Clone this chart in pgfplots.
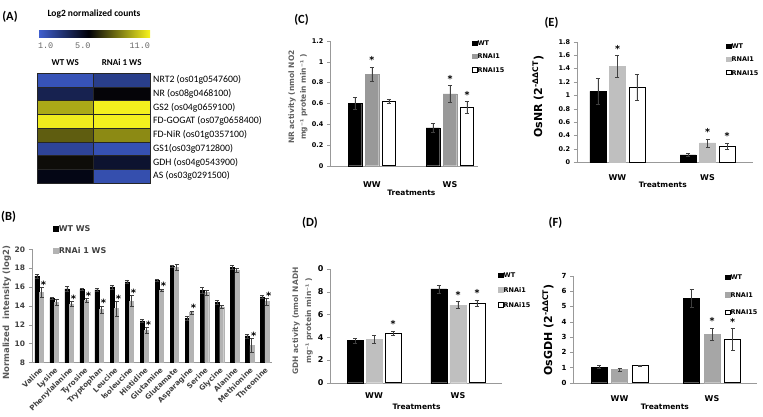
\documentclass[border=0pt]{standalone}
\usepackage{fontspec}
\setmainfont{Carlito}
\newfontfamily\vf{DejaVu Sans}
\newfontfamily\mono{Liberation Mono}
\usepackage{pgfplots}
\usepackage{pgfplotstable}
\pgfplotsset{compat=1.18}
\newcommand\fs[2]{\fontsize{#1}{#2}\selectfont}
\definecolor{gB}{HTML}{B3B3B3}
\definecolor{gC}{HTML}{999999}
\definecolor{gD}{HTML}{BFBFBF}
\definecolor{gE}{HTML}{BFBFBF}
\definecolor{gF}{HTML}{A6A6A6}

\pgfplotstableread{
x wt wte ra rae
0 17.15 0.2 15.45 0.5
1 14.8 0.1 14.4 0.3
2 15.8 0.3 14.2 0.3
3 15.75 0.1 14.6 0.2
4 15.7 0.15 13.6 0.4
5 16.0 0.2 13.7 0.8
6 16.55 0.2 14.5 0.6
7 12.4 0.15 11.4 0.3
8 16.7 0.15 15.65 0.15
9 18.2 0.15 18.1 0.3
10 12.7 0.2 13.3 0.15
11 15.65 0.3 15.4 0.25
12 14.35 0.2 13.9 0.15
13 18.05 0.2 17.75 0.2
14 10.8 0.2 9.8 0.7
15 14.95 0.2 14.45 0.35
}\tB

\pgfplotstableread{
x wt wte ra rae rb rbe
0 0.60 0.06 0.88 0.07 0.62 0.015
1 0.365 0.04 0.69 0.08 0.56 0.06
}\tC
\pgfplotstableread{
x wt wte ra rae rb rbe
0 3.7 0.2 3.8 0.35 4.35 0.2
1 8.25 0.35 6.83 0.3 6.98 0.3
}\tD
\pgfplotstableread{
x wt wte ra rae rb rbe
0 1.06 0.2 1.43 0.16 1.12 0.19
1 0.11 0.02 0.29 0.06 0.24 0.05
}\tE
\pgfplotstableread{
x wt wte ra rae rb rbe
0 1.02 0.1 0.87 0.1 1.12 0.05
1 5.54 0.57 3.19 0.4 2.83 0.72
}\tF

\tikzset{
  cstar/.style={font=\vf\bfseries\fs{9.5}{10}, anchor=base, inner sep=0pt, yshift=3pt},
  wtbar/.style={fill=black, draw=black},
  rbbar/.style={fill=white, draw=black, line width=0.8pt},
}
\pgfplotsset{
  ebar/.style={error bars/.cd, y dir=both, y explicit,
    error bar style={black!75, line width=0.6pt},
    error mark options={rotate=90, mark size=2pt, black!75, line width=0.6pt}},
  sqleg/.style={legend image code/.code={\draw[##1, line width=0.5pt] (0pt,-2.1pt) rectangle (4.4pt,2.3pt);}},
  legpitch/.style={legend style={row sep=0pt,
      nodes={inner xsep=0.5pt, inner ysep=#1, text depth=0pt, text height=4.8pt}}},
  bax/.style={scale only axis, anchor=south west,
    axis x line=bottom, axis y line=left, axis line style={-, black!40},
    ymin=0, enlargelimits=false, clip=false,
    tick align=outside, major tick length=3pt,
    ytick style={black!40}, xtick style={draw=none},
    xtick={0,1}, xticklabels={WW,WS},
    xticklabel style={font=\vf\bfseries\fs{8}{9}},
    yticklabel style={font=\vf\bfseries\fs{6.5}{8}},
    /pgf/number format/assume math mode=true,
    every axis y label/.style={rotate=90, anchor=center, align=center},
    every axis x label/.style={anchor=center, font=\vf\bfseries\fs{7.5}{9}},
    legend style={draw=none, fill=none, inner sep=0pt, anchor=north west,
      font=\vf\bfseries\fs{6.5}{7}},
    legend cell align=left},
}
\newcommand\bstar[2]{\node[font=\vf\bfseries\fs{10}{10}, anchor=base, inner sep=0pt, xshift=4.2pt, yshift=-1pt] at (axis cs:#1,#2) {*};}

\begin{document}
\begin{tikzpicture}
\useasboundingbox (0,0) rectangle (763pt,-417pt);

% panel labels
\node[font=\bfseries\fs{12.5}{14}] at (10pt,-17pt) {(A)};
\node[font=\bfseries\fs{12.5}{14}] at (8.5pt,-217pt) {(B)};
\node[font=\bfseries\fs{12.5}{14}] at (301.5pt,-20pt) {(C)};
\node[font=\bfseries\fs{12.5}{14}] at (310pt,-223pt) {(D)};
\node[font=\bfseries\fs{12.5}{14}] at (551.5pt,-23pt) {(E)};
\node[font=\bfseries\fs{12.5}{14}] at (555.5pt,-223pt) {(F)};

% ---------------- (A) heatmap
\begin{axis}[at={(37pt,-183pt)}, anchor=south west, scale only axis,
  width=113pt, height=110pt,
  xmin=-0.5, xmax=1.5, ymin=-0.5, ymax=7.5, enlargelimits=false,
  axis on top, axis line style={black!85, line width=0.5pt},
  major tick length=0pt, minor tick length=0pt,
  xtick={0,1}, xticklabels={WT WS,RNAi 1 WS}, xticklabel pos=upper,
  xticklabel style={font=\bfseries\fs{9}{10}, yshift=4pt},
  ytick={0,...,7},
  yticklabels={AS (os03g0291500),GDH (os04g0543900),GS1(os03g0712800),FD-NiR (os01g0357100),FD-GOGAT (os07g0658400),GS2 (os04g0659100),NR (os08g0468100),NRT2 (os01g0547600)},
  yticklabel pos=upper,
  yticklabel style={font=\fs{9.8}{11}, inner sep=1pt, xshift=2pt},
  minor xtick={0.5}, minor ytick={0.5,1.5,2.5,3.5,4.5,5.5,6.5},
  xminorgrids, yminorgrids, minor grid style={black!85, line width=0.5pt},
  colormap={heat}{rgb255(0cm)=(64,96,210) rgb255(4.5cm)=(0,0,8) rgb255(10cm)=(248,244,30)},
  point meta min=1, point meta max=11,
  colorbar horizontal,
  colorbar style={scale only axis, width=112pt, height=7pt,
    at={(0.009,1.327)}, anchor=south west,
    xtick={1,5,11}, xticklabels={\makebox[0pt][l]{1.0},5.0,\makebox[0pt][r]{11.0}},
    xticklabel pos=lower,
    xticklabel style={font=\mono\fs{8.5}{10}, text=black!60, yshift=-2pt},
    major tick length=0pt, axis line style={draw=none},
    title={Log2 normalized counts},
    title style={font=\bfseries\fs{9.5}{11}, yshift=2pt}},
]
\addplot[matrix plot*, mesh/cols=2, point meta=explicit] table[meta=c] {
x y c
0 0 5.2
1 0 1.8
0 1 5.8
1 1 4.6
0 2 2.3
1 2 1.7
0 3 7.6
1 3 8.6
0 4 10.8
1 4 10.9
0 5 9.3
1 5 10.9
0 6 3.9
1 6 5.6
0 7 1.6
1 7 2.6
};
\end{axis}

% ---------------- (B) amino acids
\begin{axis}[at={(31.7pt,-362.3pt)}, anchor=south west, scale only axis,
  width=240.3pt, height=113pt, clip=false,
  xmin=-0.5, xmax=15.5, ymin=8, ymax=20, ytick={8,10,...,20},
  axis x line=bottom, axis y line=left, axis line style={-, black!40},
  tick align=outside, major tick length=3pt, ytick style={black!40}, xtick style={draw=none},
  ybar=0.6pt, bar width=4pt,
  xtick={0,...,15},
  xticklabels={Valine,Lysine,Phenylalanine,Tyrosine,Tryptophan,Leucine,Isoleucine,Histidine,Glutamine,Glutamate,Asparagine,Serine,Glycine,Alanine,Methionine,Threonine},
  xticklabel style={rotate=45, anchor=north east, font=\vf\bfseries\fs{7.2}{8}, text=black!75, inner sep=1pt},
  yticklabel style={font=\vf\bfseries\fs{7.5}{9}, text=black!75},
  /pgf/number format/assume math mode=true,
  ylabel={Normalized\ \ intensity (log2)},
  every axis y label/.style={at={(axis description cs:-0.104,0.44)}, rotate=90, anchor=center, font=\vf\bfseries\fs{8.5}{9}, text=black!65},
  legend style={at={(axis description cs:0.089,1.215)}, anchor=north west, draw=none, fill=none, inner sep=0pt,
    font=\vf\bfseries\fs{8}{9}, text=black!75, row sep=15pt, nodes={inner sep=0.5pt, text depth=0pt}},
  legend cell align=left,
  legend image code/.code={\draw[#1] (0pt,-2.3pt) rectangle (4.6pt,2.3pt);},
]
\addplot[fill=black, draw=black, ebar] table[x=x, y=wt, y error=wte] {\tB};
\addplot[fill=gB, draw=gB, ebar] table[x=x, y=ra, y error=rae] {\tB};
\legend{WT WS,RNAi 1 WS}
\bstar{0}{15.95}
\bstar{2}{14.5}
\bstar{3}{14.8}
\bstar{4}{14.0}
\bstar{5}{14.5}
\bstar{6}{15.1}
\bstar{7}{11.7}
\bstar{8}{15.8}
\bstar{10}{13.45}
\bstar{14}{10.5}
\bstar{15}{14.8}
\end{axis}

% ---------------- (C) NR activity
\begin{axis}[bax, at={(330pt,-165.7pt)}, width=148pt, height=124.7pt,
  xmin=-0.538, xmax=1.359, ymax=1.2, ytick={0,0.2,0.4,0.6,0.8,1,1.2},
  ybar=3.5pt, bar width=13.5pt,
  xticklabel style={yshift=-9pt},
  ylabel={NR activity (nmol NO2\\mg⁻¹ protein min⁻¹ )},
  ylabel style={at={(axis description cs:-0.216,0.55)}, font=\vf\bfseries\fs{7.5}{11.7}, text=black!62},
  xlabel={Treatments}, xlabel style={at={(axis description cs:0.55,-0.219)}},
  legend style={at={(axis description cs:0.959,1.038)}},
  legpitch=4.3pt, sqleg,
]
\addplot[wtbar, ebar] table[x=x, y=wt, y error=wte] {\tC};
\addplot[fill=gC, draw=gC, ebar] table[x=x, y=ra, y error=rae] {\tC};
\addplot[rbbar, ebar] table[x=x, y=rb, y error=rbe] {\tC};
\legend{WT,RNAI1,RNAI15}
\node[cstar] at (axis cs:0,0.95) {*};
\node[cstar] at (axis cs:1,0.77) {*};
\node[cstar, xshift=17pt] at (axis cs:1,0.62) {*};
\end{axis}

% ---------------- (D) GDH activity
\begin{axis}[bax, at={(330pt,-382.7pt)}, width=172pt, height=113.7pt,
  xmin=-0.524, xmax=1.524, ymax=10, ytick={0,2,4,6,8,10}, yticklabels={0,2,4,6,8,0},
  yticklabel style={font=\vf\bfseries\fs{8}{9}},
  ybar=3pt, bar width=16pt,
  xticklabel style={yshift=-3.5pt},
  ylabel={GDH activity (nmol NADH\\mg⁻¹ protein min⁻¹ )},
  ylabel style={at={(axis description cs:-0.16,0.543)}, font=\vf\bfseries\fs{7.5}{13}, text=black!62},
  xlabel={Treatments}, xlabel style={at={(axis description cs:0.503,-0.211)}},
  legend style={at={(axis description cs:0.977,1.013)}},
  legpitch=5pt, sqleg,
]
\addplot[wtbar, ebar] table[x=x, y=wt, y error=wte] {\tD};
\addplot[fill=gD, draw=gD, ebar] table[x=x, y=ra, y error=rae] {\tD};
\addplot[rbbar, ebar] table[x=x, y=rb, y error=rbe] {\tD};
\legend{WT,RNAi1,RNAi15}
\node[cstar, xshift=19pt] at (axis cs:0,4.55) {*};
\node[cstar] at (axis cs:1,7.13) {*};
\node[cstar, xshift=19pt] at (axis cs:1,7.28) {*};
\end{axis}

% ---------------- (E) OsNR
\begin{axis}[bax, at={(576.7pt,-162.3pt)}, width=176pt, height=120.6pt,
  xmin=-0.453, xmax=1.502, ymax=1.8, ytick={0,0.2,0.4,0.6,0.8,1,1.2,1.4,1.6,1.8},
  ybar=3.5pt, bar width=16pt,
  xticklabel style={yshift=-5.5pt},
  ylabel={OsNR (2\textsuperscript{-ΔΔCT})},
  ylabel style={at={(axis description cs:-0.22,0.544)}, font=\vf\bfseries\fs{11}{13}},
  xlabel={Treatments}, xlabel style={at={(axis description cs:0.489,-0.188)}},
  legend style={at={(axis description cs:0.848,1.019)}},
  legpitch=4.2pt, sqleg,
]
\addplot[wtbar, ebar] table[x=x, y=wt, y error=wte] {\tE};
\addplot[fill=gE, draw=gE, ebar] table[x=x, y=ra, y error=rae] {\tE};
\addplot[rbbar, ebar] table[x=x, y=rb, y error=rbe] {\tE};
\legend{WT,RNAI1,RNAI15}
\node[cstar] at (axis cs:0,1.59) {*};
\node[cstar] at (axis cs:1,0.35) {*};
\node[cstar, xshift=19.5pt] at (axis cs:1,0.29) {*};
\end{axis}

% ---------------- (F) OsGDH
\begin{axis}[bax, at={(573pt,-382.7pt)}, width=183.7pt, height=106.7pt,
  xmin=-0.503, xmax=1.483, ymax=7, ytick={0,1,...,7},
  yticklabel style={font=\vf\bfseries\fs{7}{8}},
  ybar=4.5pt, bar width=16pt,
  xticklabel style={yshift=-6.5pt},
  ylabel={OsGDH (2\textsuperscript{-ΔΔCT})},
  ylabel style={at={(axis description cs:-0.136,0.494)}, font=\vf\bfseries\fs{11}{13}},
  xlabel={Treatments}, xlabel style={at={(axis description cs:0.5,-0.225)}},
  legend style={at={(axis description cs:0.827,1.07)}},
  legpitch=6.3pt, sqleg,
]
\addplot[wtbar, ebar] table[x=x, y=wt, y error=wte] {\tF};
\addplot[fill=gF, draw=gF, ebar] table[x=x, y=ra, y error=rae] {\tF};
\addplot[rbbar, ebar] table[x=x, y=rb, y error=rbe] {\tF};
\legend{WT,RNAI1,RNAI15}
\node[cstar] at (axis cs:1,3.59) {*};
\node[cstar, xshift=20.5pt] at (axis cs:1,3.55) {*};
\end{axis}
\end{tikzpicture}
\end{document}
